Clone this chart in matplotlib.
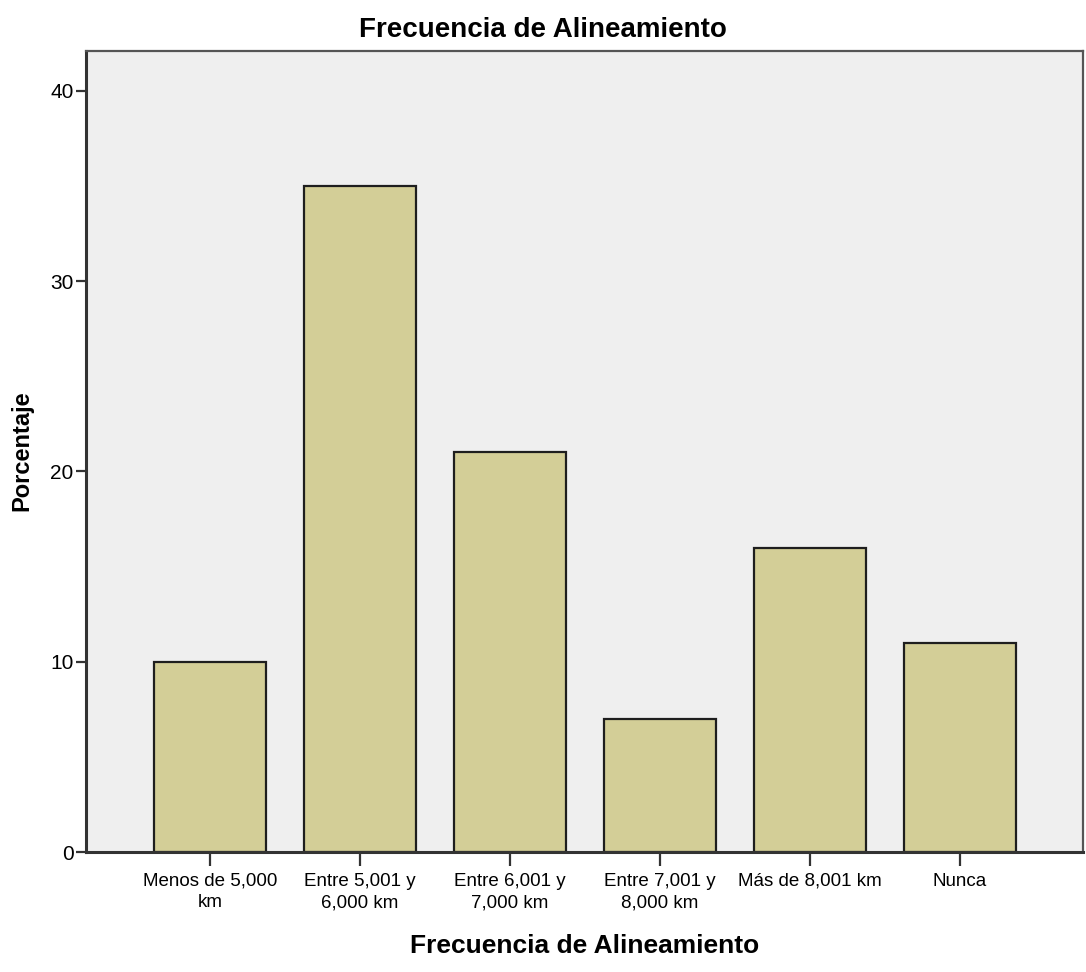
import matplotlib
matplotlib.use("Agg")
import matplotlib.pyplot as plt

categories = ["Menos de 5,000\nkm", "Entre 5,001 y\n6,000 km", "Entre 6,001 y\n7,000 km",
              "Entre 7,001 y\n8,000 km", "Más de 8,001 km", "Nunca"]
values = [10, 35, 21, 7, 16, 11]
yticks = [0, 10, 20, 30, 40]

plt.rcParams['font.family'] = ['Liberation Sans', 'DejaVu Sans']

fig = plt.figure(figsize=(10.86, 9.72), dpi=100)
ax = fig.add_axes([86/1086, 1-852/972, (1083-86)/1086, (852-51)/972])
ax.set_facecolor("#EFEFEF")
x = list(range(len(categories)))
ax.bar(x, values, width=0.747, color="#D3CE97", edgecolor="#1E1E1E", linewidth=1.6, zorder=2)
ax.set_xlim(-0.827, 5.82)
ax.set_ylim(0, 42.1)
ax.set_yticks(yticks)
ax.set_xticks(x)
ax.set_xticklabels(categories, fontsize=13.5, linespacing=1.35)
ax.tick_params(axis='y', labelsize=15, length=7, width=1.6, color="#333333", pad=2)
ax.tick_params(axis='x', length=10, width=1.6, color="#333333", pad=5)
for s in ax.spines.values():
    s.set_color("#555555")
    s.set_linewidth(1.6)
ax.spines['left'].set_color("#333333")
ax.spines['bottom'].set_color("#333333")
ax.spines['left'].set_linewidth(2.2)
ax.spines['bottom'].set_linewidth(2.2)
fig.text(0.5, 1-30/972, "Frecuencia de Alineamiento", fontsize=20, fontweight='bold',
         ha='center', va='center')
ax.set_xlabel("Frecuencia de Alineamiento", fontsize=19, fontweight='bold', labelpad=16)
fig.text(22/1086, 1-451/972, "Porcentaje", fontsize=17, fontweight='bold',
         rotation=90, ha='center', va='center')
fig.savefig("out.png", dpi=100)
